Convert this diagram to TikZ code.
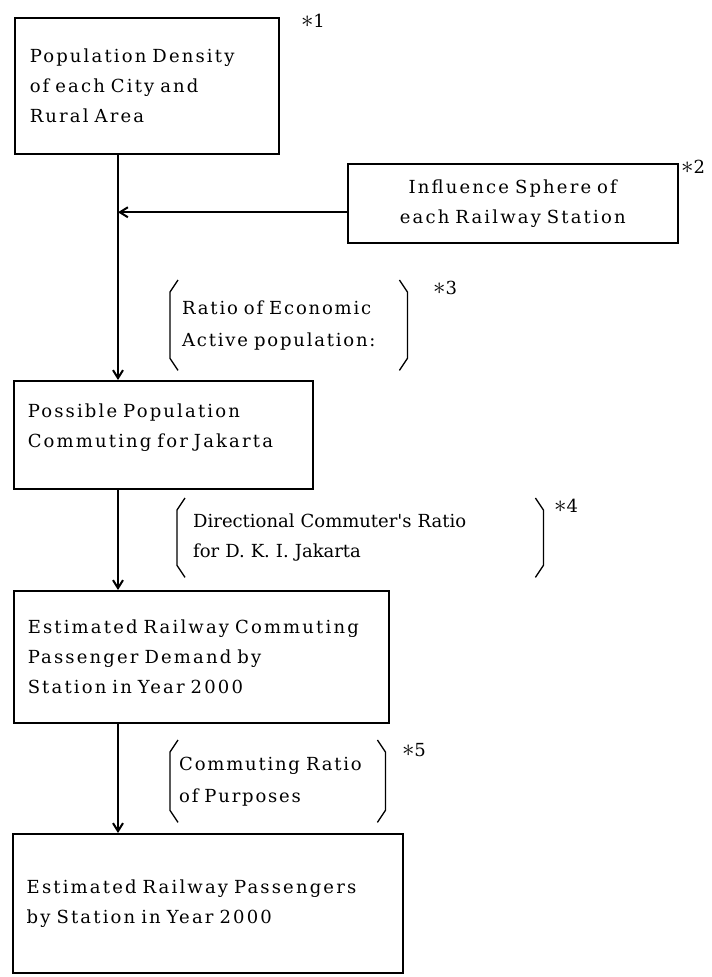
\documentclass[tikz,border=0pt]{standalone}
\usepackage{fontspec}
\setmainfont{DejaVu Serif}
\newfontfamily\boxfont[LetterSpace=12, WordSpace=1.4]{DejaVu Serif}
\newfontfamily\notefont[LetterSpace=10, WordSpace=1.3]{DejaVu Serif}
\newfontfamily\dirfont[WordSpace=1.3]{DejaVu Serif}
\usetikzlibrary{arrows.meta}

% brackets on both sides of a note node
\newcommand\sidebrackets[1]{%
\draw[brace] ([xshift=8pt]#1.north west) -- ([yshift=-12pt]#1.north west) -- ([yshift=12pt]#1.south west) -- ([xshift=8pt]#1.south west);
\draw[brace] ([xshift=-8pt]#1.north east) -- ([yshift=-12pt]#1.north east) -- ([yshift=12pt]#1.south east) -- ([xshift=-8pt]#1.south east);
}
\newcommand\refmark[1]{{\fontsize{28}{28}\selectfont$\ast$}#1}

\begin{document}
\begin{tikzpicture}[x=1pt, y=-1pt]
\tikzstyle{every node}=[inner sep=0pt, font=\boxfont\fontsize{18}{30}\selectfont]
\tikzstyle{stepbox}=[draw, line width=1.5pt, anchor=north west, align=left, inner xsep=15pt]
\tikzstyle{note}=[anchor=north west, align=left, inner xsep=13pt, font=\notefont\fontsize{18}{32}\selectfont]
\tikzstyle{tag}=[font=\fontsize{18}{22}\selectfont]
\tikzstyle{brace}=[line width=1.3pt]
\tikzstyle{flow}=[line width=2pt, -{Straight Barb[length=8pt, width=10pt]}]

\useasboundingbox (0,0) rectangle (712,977);

% boxes
\node[stepbox, minimum width=264pt, minimum height=136pt, text width=234pt] (density) at (14,17)
{Population Density\\of each City and\\Rural Area};
\node[stepbox, align=center, minimum width=325pt, minimum height=79pt, text width=300pt] (sphere) at (347,163)
{Influence Sphere of\\each Railway Station};
\node[stepbox, minimum width=299pt, minimum height=108pt, text width=271pt, inner xsep=14pt] (possible) at (13,380)
{Possible Population\\Commuting for Jakarta\\[-20pt]\strut};
\node[stepbox, minimum width=375pt, minimum height=132pt, text width=347pt, inner xsep=14pt] (demand) at (13,590)
{Estimated Railway Commuting\\Passenger Demand by\\Station in Year 2000};
\node[stepbox, minimum width=390pt, minimum height=139pt, text width=362pt, inner xsep=14pt] (passengers) at (12,833)
{Estimated Railway Passengers\\by Station in Year 2000};

% notes between the boxes
\node[note, minimum width=237pt, minimum height=90pt, text width=213pt, inner xsep=12pt] (economic) at (170,280)
{Ratio of Economic\\Active population:};
\node[note, minimum width=366pt, minimum height=79pt, text width=334pt, inner xsep=16pt,
font=\dirfont\fontsize{18}{30}\selectfont] (directional) at (177,498)
{Directional Commuter's Ratio\\for D. K. I. Jakarta};
\node[note, minimum width=215pt, minimum height=82pt, text width=197pt, inner xsep=9pt] (purposes) at (170,740)
{Commuting Ratio\\of Purposes};
\sidebrackets{economic}
\sidebrackets{directional}
\sidebrackets{purposes}

% reference marks
\node[tag] (tag1) at (313,21) {\refmark{1}};
\node[tag] (tag2) at (693,167) {\refmark{2}};
\node[tag] (tag3) at (445,288) {\refmark{3}};
\node[tag] (tag4) at (566,506) {\refmark{4}};
\node[tag] (tag5) at (414,750) {\refmark{5}};

% connectors
\coordinate (trunk) at (118,0);
\coordinate (inlet) at ([yshift=-9pt]sphere.west);
\draw[flow] (density.south -| trunk) -- (possible.north -| trunk);
\draw[flow] (inlet) -- (inlet -| trunk);
\draw[flow] (possible.south -| trunk) -- (demand.north -| trunk);
\draw[flow] (demand.south -| trunk) -- (passengers.north -| trunk);
\end{tikzpicture}
\end{document}
